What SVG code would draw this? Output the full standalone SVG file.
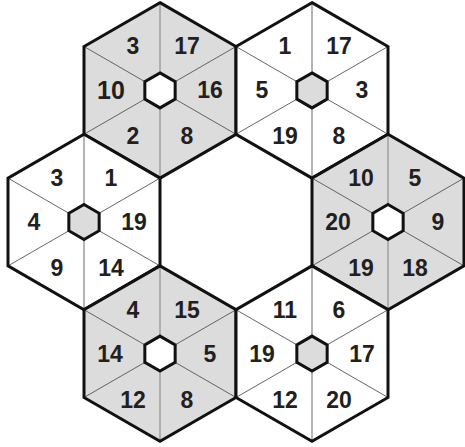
<svg xmlns="http://www.w3.org/2000/svg" xmlns:xlink="http://www.w3.org/1999/xlink" width="465" height="447" viewBox="0 0 465 447">
<style>
.gray{fill:#dcdcdc}
.white{fill:#ffffff}
.outline{fill:none;stroke:#111;stroke-width:3;stroke-linejoin:miter}
.vsp{stroke:#a3a3a3;stroke-width:1.6}
.dsp{stroke:#555;stroke-width:0.9}
.hole{stroke:#111;stroke-width:3;stroke-linejoin:miter}
text{font-family:"Liberation Sans",Arial,sans-serif;font-weight:bold;font-size:23px;fill:#231f20;text-anchor:middle}
.big{font-size:25px;font-weight:900}
</style>
<defs>
<polygon id="hex" points="0,-87.76 76,-43.88 76,43.88 0,87.76 -76,43.88 -76,-43.88"/>
<g id="spokes">
<line class="vsp" x1="0" y1="-87.76" x2="0" y2="87.76"/>
<line class="dsp" x1="76" y1="-43.88" x2="-76" y2="43.88"/>
<line class="dsp" x1="76" y1="43.88" x2="-76" y2="-43.88"/>
</g>
<polygon id="small" points="0,-17.5 15.16,-8.75 15.16,8.75 0,17.5 -15.16,8.75 -15.16,-8.75"/>
</defs>

<g id="hex-top-left" transform="translate(160,90.4)">
<use xlink:href="#hex" class="gray"/>
<use xlink:href="#spokes"/>
<use xlink:href="#small" class="hole white"/>
<use xlink:href="#hex" class="outline"/>
<text x="-27" y="-36">3</text><text x="27" y="-36">17</text><text x="50" y="8">16</text>
<text x="27" y="54">8</text><text x="-27" y="54">2</text><text class="big" x="-49" y="9">10</text>
</g>

<g id="hex-top-right" transform="translate(312,90.4)">
<use xlink:href="#hex" class="white"/>
<use xlink:href="#spokes"/>
<use xlink:href="#small" class="hole gray"/>
<use xlink:href="#hex" class="outline"/>
<text x="-27" y="-36">1</text><text x="27" y="-36">17</text><text x="50" y="8">3</text>
<text x="27" y="54">8</text><text x="-27" y="54">19</text><text x="-50" y="8">5</text>
</g>

<g id="hex-left" transform="translate(84,222)">
<use xlink:href="#hex" class="white"/>
<use xlink:href="#spokes"/>
<use xlink:href="#small" class="hole gray"/>
<use xlink:href="#hex" class="outline"/>
<text x="-27" y="-36">3</text><text x="27" y="-36">1</text><text x="50" y="8">19</text>
<text x="27" y="54">14</text><text x="-27" y="54">9</text><text x="-50" y="8">4</text>
</g>

<g id="hex-right" transform="translate(388,222)">
<use xlink:href="#hex" class="gray"/>
<use xlink:href="#spokes"/>
<use xlink:href="#small" class="hole white"/>
<use xlink:href="#hex" class="outline"/>
<text x="-27" y="-36">10</text><text x="27" y="-36">5</text><text x="50" y="8">9</text>
<text x="27" y="54">18</text><text x="-27" y="54">19</text><text x="-50" y="8">20</text>
</g>

<g id="hex-bottom-left" transform="translate(160,353.6)">
<use xlink:href="#hex" class="gray"/>
<use xlink:href="#spokes"/>
<use xlink:href="#small" class="hole white"/>
<use xlink:href="#hex" class="outline"/>
<text x="-27" y="-36">4</text><text x="27" y="-36">15</text><text x="50" y="8">5</text>
<text x="27" y="54">8</text><text x="-27" y="54">12</text><text x="-50" y="8">14</text>
</g>

<g id="hex-bottom-right" transform="translate(312,353.6)">
<use xlink:href="#hex" class="white"/>
<use xlink:href="#spokes"/>
<use xlink:href="#small" class="hole gray"/>
<use xlink:href="#hex" class="outline"/>
<text x="-27" y="-36">11</text><text x="27" y="-36">6</text><text x="50" y="8">17</text>
<text x="27" y="54">20</text><text x="-27" y="54">12</text><text x="-50" y="8">19</text>
</g>

<g id="connectors"/>
</svg>
